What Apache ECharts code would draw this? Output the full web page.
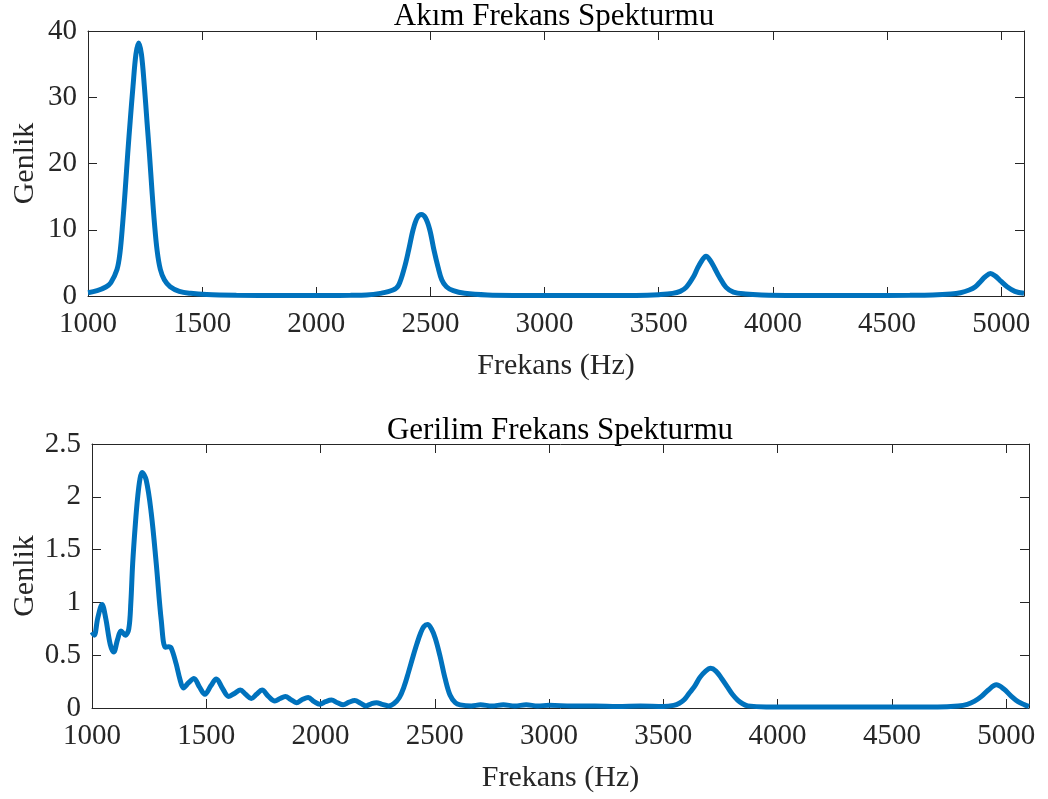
<!DOCTYPE html>
<html>
<head>
<meta charset="utf-8">
<title>Frekans Spekturmu</title>
<script src="https://cdn.jsdelivr.net/npm/echarts@6/dist/echarts.min.js"></script>
<style>
  html, body { margin: 0; padding: 0; background: #fff; }
  #chart { width: 1048px; height: 799px; }
</style>
</head>
<body>
<div id="chart"></div>
<script>
// Akım (current) spectrum
const currentFreq = [
  1000, 1040, 1080, 1100, 1127, 1140, 1152, 1163, 1174, 1185, 1197, 1210, 1222,
  1234, 1247, 1258, 1269, 1280, 1291, 1303, 1317, 1335, 1360, 1400, 1450, 1520,
  1650, 1850, 2050, 2150, 2220, 2280, 2336, 2360, 2387, 2405, 2424, 2442, 2460,
  2478, 2497, 2515, 2533, 2550, 2570, 2600, 2650, 2750, 2900, 3100, 3300, 3450,
  3500, 3560, 3594, 3620, 3652, 3670, 3690, 3707, 3725, 3745, 3765, 3795, 3827,
  3880, 3950, 4100, 4400, 4600, 4700, 4780, 4822, 4860, 4887, 4910, 4930, 4953,
  4975, 5000, 5026, 5060, 5100
]
const currentAmp = [
  0.5, 0.8, 1.4, 2.0, 4.0, 6.5, 11, 16, 21.5, 26.5, 31.6, 36.5, 38.2,
  36.5, 31.6, 26.5, 21.5, 16, 11, 6.8, 4.0, 2.4, 1.4, 0.7, 0.4, 0.22,
  0.12, 0.08, 0.08, 0.1, 0.15, 0.4, 0.9, 1.6, 4.4, 7, 10, 11.8, 12.3,
  11.8, 10, 7, 4.4, 2.4, 1.4, 0.8, 0.4, 0.15, 0.08, 0.06, 0.08, 0.12,
  0.2, 0.4, 0.7, 1.3, 2.9, 4.2, 5.4, 6.0, 5.4, 4.2, 2.9, 1.3, 0.6,
  0.3, 0.15, 0.08, 0.07, 0.1, 0.15, 0.3, 0.5, 0.9, 1.4, 2.2, 2.9, 3.4,
  3.0, 2.2, 1.4, 0.7, 0.4
]

// Gerilim (voltage) spectrum
const voltageFreq = [
  1000, 1010, 1025, 1044, 1060, 1080, 1095, 1112, 1127, 1146, 1161, 1170, 1178,
  1190, 1200, 1210, 1219, 1237, 1259, 1281, 1303, 1321, 1335, 1346, 1368, 1385,
  1400, 1423, 1446, 1470, 1494, 1520, 1544, 1570, 1598, 1625, 1649, 1672, 1697,
  1720, 1744, 1772, 1800, 1823, 1846, 1870, 1895, 1920, 1946, 1972, 1997, 2022,
  2048, 2074, 2099, 2125, 2150, 2175, 2199, 2222, 2245, 2270, 2297, 2320, 2345,
  2365, 2385, 2405, 2422, 2438, 2452, 2468, 2485, 2502, 2523, 2545, 2567, 2590,
  2611, 2660, 2700, 2750, 2800, 2850, 2900, 2950, 3000, 3100, 3200, 3300, 3400,
  3500, 3545, 3570, 3592, 3613, 3635, 3660, 3685, 3707, 3730, 3755, 3780, 3802,
  3825, 3847, 3870, 3950, 4100, 4300, 4500, 4700, 4790, 4830, 4862, 4892, 4922,
  4957, 4990, 5023, 5052, 5081, 5100
]
const voltageAmp = [
  0.72, 0.69, 0.85, 0.98, 0.85, 0.6, 0.53, 0.65, 0.73, 0.69, 0.75, 1.0, 1.37,
  1.75, 2.0, 2.17, 2.23, 2.16, 1.85, 1.37, 0.83, 0.575, 0.58, 0.57, 0.42, 0.27,
  0.19, 0.24, 0.28, 0.2, 0.13, 0.21, 0.275, 0.19, 0.11, 0.14, 0.17, 0.13, 0.09,
  0.13, 0.17, 0.11, 0.066, 0.09, 0.11, 0.08, 0.05, 0.08, 0.1, 0.06, 0.035, 0.06,
  0.075, 0.05, 0.03, 0.055, 0.07, 0.045, 0.02, 0.04, 0.05, 0.035, 0.02, 0.04, 0.1,
  0.2, 0.34, 0.49, 0.61, 0.71, 0.77, 0.79, 0.75, 0.66, 0.49, 0.28, 0.12, 0.05,
  0.03, 0.02, 0.03, 0.02, 0.03, 0.02, 0.03, 0.02, 0.025, 0.02, 0.02, 0.015, 0.02,
  0.015, 0.025, 0.045, 0.08, 0.14, 0.2, 0.29, 0.35, 0.376, 0.35, 0.28, 0.2, 0.13,
  0.075, 0.04, 0.02, 0.01, 0.01, 0.01, 0.01, 0.01, 0.02, 0.035, 0.065, 0.11, 0.17,
  0.22, 0.18, 0.11, 0.06, 0.03, 0.015
]

const titles = ['Akım Frekans Spekturmu', 'Gerilim Frekans Spekturmu']
const xName = 'Frekans (Hz)'
const yName = 'Genlik'

const font = 'Liberation Serif'
const ink = '#262626'
const blue = '#0072BD'

const zip = (xs, ys) => xs.map((x, i) => [x, ys[i]])

const chart = echarts.init(document.getElementById('chart'))

// one x axis pair (bottom with labels, top only ticks) per grid
const makeX = (gridIndex, position, labels) => ({
  type: 'value',
  gridIndex,
  position,
  min: 1000,
  max: 5100,
  interval: 500,
  name: labels ? xName : '',
  nameLocation: 'middle',
  nameGap: 55,
  nameMoveOverlap: false,
  nameTextStyle: { fontFamily: font, fontSize: 30, color: ink },
  axisLine: { show: true, onZero: false, lineStyle: { color: ink, width: 1 } },
  axisTick: { show: true, inside: true, length: 9, lineStyle: { color: ink } },
  axisLabel: {
    show: labels,
    fontFamily: font,
    fontSize: 29,
    color: ink,
    margin: 14,
    showMaxLabel: false,
    formatter: (v) => String(v),
  },
  splitLine: { show: false },
})

const makeY = (gridIndex, position, labels, max, interval, gap) => ({
  type: 'value',
  gridIndex,
  position,
  min: 0,
  max,
  interval,
  name: labels ? yName : '',
  nameLocation: 'middle',
  nameRotate: 90,
  nameGap: gap,
  nameMoveOverlap: false,
  nameTextStyle: { fontFamily: font, fontSize: 30, color: ink },
  axisLine: { show: true, onZero: false, lineStyle: { color: ink, width: 1 } },
  axisTick: { show: true, inside: true, length: 9, lineStyle: { color: ink } },
  axisLabel: {
    show: labels,
    fontFamily: font,
    fontSize: 29,
    color: ink,
    margin: 11,
    formatter: (v) => String(v),
  },
  splitLine: { show: false },
})

chart.setOption({
  animation: false,
  backgroundColor: '#fff',
  graphic: [
    {
      type: 'text',
      x: 554,
      y: 17,
      style: { text: titles[0], font: '31px "Liberation Serif"', fill: '#000', textAlign: 'center', textVerticalAlign: 'middle' },
    },
    {
      type: 'text',
      x: 560,
      y: 431,
      style: { text: titles[1], font: '31px "Liberation Serif"', fill: '#000', textAlign: 'center', textVerticalAlign: 'middle' },
    },
  ],
  grid: [
    { left: 88, top: 31, width: 936, height: 265, show: false, outerBoundsMode: 'none' },
    { left: 92, top: 444, width: 937, height: 264, show: false, outerBoundsMode: 'none' },
  ],
  xAxis: [
    makeX(0, 'bottom', true),
    makeX(0, 'top', false),
    makeX(1, 'bottom', true),
    makeX(1, 'top', false),
  ],
  yAxis: [
    makeY(0, 'left', true, 40, 10, 48),
    makeY(0, 'right', false, 40, 10, 0),
    makeY(1, 'left', true, 2.5, 0.5, 52),
    makeY(1, 'right', false, 2.5, 0.5, 0),
  ],
  series: [
    {
      type: 'line',
      xAxisIndex: 0,
      yAxisIndex: 0,
      data: zip(currentFreq, currentAmp),
      smooth: 0.35,
      symbol: 'none',
      clip: false,
      lineStyle: { color: blue, width: 5 },
    },
    {
      type: 'line',
      xAxisIndex: 2,
      yAxisIndex: 2,
      data: zip(voltageFreq, voltageAmp),
      smooth: 0.35,
      symbol: 'none',
      clip: false,
      lineStyle: { color: blue, width: 5 },
    },
  ],
})
</script>
</body>
</html>
